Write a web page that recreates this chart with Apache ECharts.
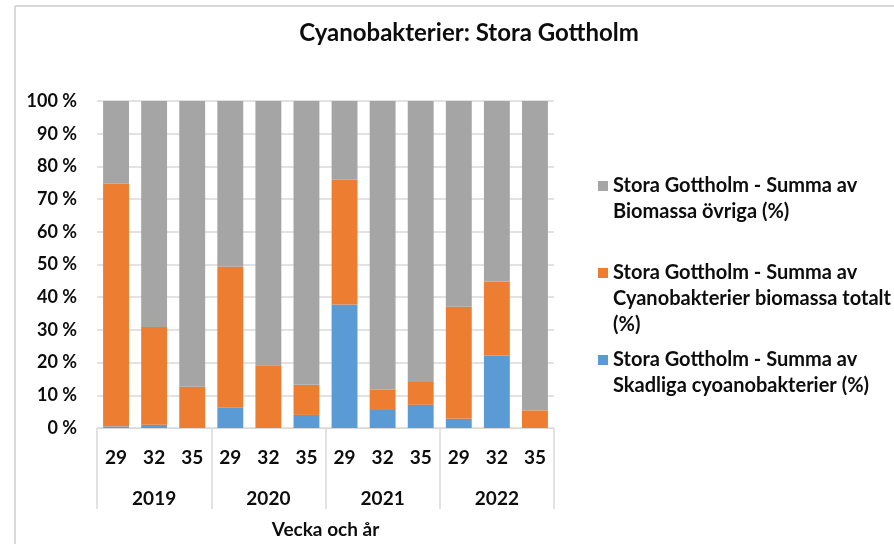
<!DOCTYPE html>
<html>
<head>
<meta charset="utf-8">
<script src="https://cdn.jsdelivr.net/npm/echarts@6/dist/echarts.min.js"></script>
<style>
html,body{margin:0;padding:0;background:#fff;}
#c{width:894px;height:544px;}
</style>
</head>
<body>
<div id="c"></div>
<script>
// Data
const weeks = ['29','32','35','29','32','35','29','32','35','29','32','35'];
const years = ['2019','2020','2021','2022'];
const seriesNames = [
  'Stora Gottholm - Summa av Skadliga cyoanobakterier (%)',
  'Stora Gottholm - Summa av Cyanobakterier biomassa totalt (%)',
  'Stora Gottholm - Summa av Biomassa övriga (%)'
];
// stacked segment values (%)
const skadliga = [0.5, 1.0, 0, 6.3, 0, 4.0, 37.8, 5.5, 7.1, 2.8, 22.2, 0];
const cyanoTotalt = [74.2, 29.9, 12.6, 43.0, 19.2, 9.2, 38.1, 6.2, 7.0, 34.3, 22.6, 5.4];
const ovriga = [25.3, 69.1, 87.4, 50.7, 80.8, 86.8, 24.1, 88.3, 85.9, 62.9, 55.2, 94.6];
const yTicks = [0,10,20,30,40,50,60,70,80,90,100];

const FONT = 'Lato';
const TXT = '#0d0d0d';
const colors = ['#5B9BD5', '#ED7D31', '#A5A5A5'];

const chart = echarts.init(document.getElementById('c'), null, {renderer: 'canvas'});

function legendFmt(name){
  const first = '{sq|}{sp|}{t|Stora Gottholm - Summa av}';
  if (name === seriesNames[2]) return first + '\n{in|}{t|Biomassa övriga (%)}';
  if (name === seriesNames[1]) return first + '\n{in|}{t|Cyanobakterier biomassa totalt}\n{in|}{t|(%)}';
  return first + '\n{in|}{t|Skadliga cyoanobakterier (%)}';
}

function mkLegend(idx, top){
  return {
    data: [seriesNames[idx]],
    left: 593,
    top: top,
    padding: 0,
    orient: 'vertical',
    icon: 'none',
    itemWidth: 0,
    itemHeight: 10,
    itemGap: 0,
    selectedMode: false,
    formatter: legendFmt,
    textStyle: {
      fontFamily: FONT, fontWeight: 'bold', fontSize: 20, color: TXT,
      rich: {
        t: { fontFamily: FONT, fontWeight: 'bold', fontSize: 20, color: TXT, lineHeight: 26 },
        sq: { width: 10, height: 10, backgroundColor: colors[idx] },
        sp: { width: 5 },
        in: { width: 15 }
      }
    }
  };
}

const option = {
  animation: false,
  backgroundColor: '#fff',
  color: colors,
  title: {
    text: 'Cyanobakterier: Stora Gottholm',
    left: 464, top: 16, textAlign: 'center',
    textStyle: { fontFamily: FONT, fontWeight: 'bold', fontSize: 24, color: TXT }
  },
  legend: [mkLegend(2, 176), mkLegend(1, 263), mkLegend(0, 350)],
  grid: { left: 97, right: 340, top: 101, bottom: 116, containLabel: false, outerBoundsMode: 'none' },
  xAxis: [
    {
      type: 'category', data: weeks, position: 'bottom',
      axisLine: { show: true, lineStyle: { color: '#d9d9d9', width: 1 } },
      axisTick: { show: false },
      axisLabel: { margin: 20, fontFamily: FONT, fontWeight: 'bold', fontSize: 19, color: TXT, interval: 0 },
      name: 'Vecka och år', nameLocation: 'middle', nameGap: 92,
      nameTextStyle: { fontFamily: FONT, fontWeight: 'bold', fontSize: 19, color: TXT }
    },
    {
      type: 'category', data: years, position: 'bottom', offset: 0,
      axisLine: { show: false },
      axisTick: { show: true, length: 81, interval: 0, lineStyle: { color: '#d9d9d9', width: 1.5 } },
      axisLabel: { margin: 61, fontFamily: FONT, fontWeight: 'bold', fontSize: 19, color: TXT, interval: 0 },
      splitLine: { show: false }
    }
  ],
  yAxis: {
    type: 'value', min: 0, max: 100, interval: 10,
    axisLine: { show: false }, axisTick: { show: false },
    splitLine: { lineStyle: { color: '#d9d9d9', width: 1.5 } },
    axisLabel: {
      margin: 20, fontFamily: FONT, fontWeight: 'bold', fontSize: 18, color: TXT,
      formatter: v => (yTicks.indexOf(v) >= 0 ? v + ' %' : '')
    }
  },
  series: [
    { name: seriesNames[0], type: 'bar', stack: 's', data: skadliga, barCategoryGap: '32%', itemStyle: { color: colors[0] } },
    { name: seriesNames[1], type: 'bar', stack: 's', data: cyanoTotalt, barCategoryGap: '32%', itemStyle: { color: colors[1] } },
    { name: seriesNames[2], type: 'bar', stack: 's', data: ovriga, barCategoryGap: '32%', itemStyle: { color: colors[2] } }
  ],
  graphic: [
    { type: 'line', shape: { x1: 15, y1: 6, x2: 894, y2: 6 }, style: { stroke: '#d9d9d9', lineWidth: 2 }, silent: true },
    { type: 'line', shape: { x1: 15, y1: 6, x2: 15, y2: 544 }, style: { stroke: '#d9d9d9', lineWidth: 2 }, silent: true }
  ]
};
chart.setOption(option);
</script>
</body>
</html>
